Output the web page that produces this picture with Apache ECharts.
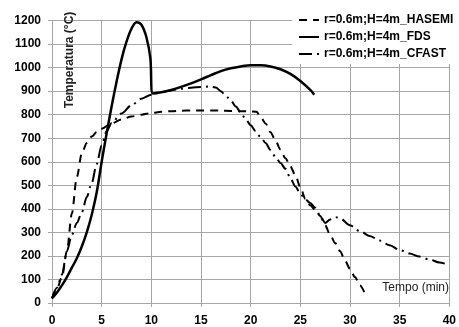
<!DOCTYPE html>
<html>
<head>
<meta charset="utf-8">
<script src="https://cdn.jsdelivr.net/npm/echarts@6/dist/echarts.min.js"></script>
<style>html,body{margin:0;padding:0;background:#fff}#c{width:459px;height:327px}</style>
</head>
<body>
<div id="c"></div>
<script>
const xTicks = [0,5,10,15,20,25,30,35,40];
const yTicks = [0,100,200,300,400,500,600,700,800,900,1000,1100,1200];

const hasemiTime = [0,0.5,1,1.5,2,2.5,3,3.5,4,4.5,5,6,7,8,9,10,11,12,13,14,15,16,17,18,19,20,20.6,21,21.5,22,22.5,23,23.5,24,24.5,25,25.5,26,26.5,27,27.5,28,28.5,29,29.5,30,30.5,31,31.5];
const hasemiTemp = [20,60,110,220,380,535,635,680,707,726,740,763,780,792,800,807,812,815,817,818,818,818,817,816,815,814,812,790,763,725,690,652,615,580,543,492,442,415,395,370,330,290,255,220,180,145,110,75,40];

const fdsTime = [0,0.5,1,1.5,2,2.5,3,3.5,4,4.5,5,5.5,6,6.5,7,7.5,8,8.5,9,9.5,9.9,10.15,11,12,13,14,15,16,17,18,19,20,21,22,23,24,25,26,26.4];
const fdsTemp = [20,45,75,110,150,190,240,300,375,470,600,720,835,940,1035,1110,1165,1193,1182,1130,1040,890,895,905,918,933,950,968,985,997,1005,1010,1010,1005,993,973,943,905,885];

const cfastTime = [0,0.5,1,1.5,2,2.5,3,3.5,4,4.5,5,5.5,6,7,8,9,10,11,12,13,14,15,16,16.5,17,17.5,18,18.5,19,19.5,20,20.5,21,21.5,22,22.5,23,23.5,24,24.5,25,25.5,26,26.5,27,27.5,28,28.5,29,30,31,32,33,34,35,36,37,38,39,40];
const cfastTemp = [20,65,120,220,290,340,385,450,510,590,670,730,765,805,840,868,885,895,903,910,914,918,920,915,900,880,860,835,810,780,755,730,705,680,650,620,595,570,530,495,465,440,425,405,370,340,355,365,360,330,305,285,265,245,225,210,197,185,172,160];

const seriesNames = ['r=0.6m;H=4m_HASEMI','r=0.6m;H=4m_FDS','r=0.6m;H=4m_CFAST'];

function zip(a,b){return a.map((v,i)=>[v,b[i]]);}

const chart = echarts.init(document.getElementById('c'));
const gray = '#a6a6a6';
const font = 'Liberation Sans, Arial, sans-serif';
chart.setOption({
  animation:false,
  backgroundColor:'#fff',
  color:['#000','#000','#000'],
  grid:{left:52,right:7,top:20.5,bottom:24,containLabel:false},
  xAxis:{type:'value',min:0,max:40,interval:5,
    axisLine:{lineStyle:{color:gray,width:1}},
    axisTick:{show:true,length:4,lineStyle:{color:gray}},
    splitLine:{lineStyle:{color:gray,width:1}},
    axisLabel:{margin:12,color:'#000',fontWeight:'bold',fontSize:12,fontFamily:font,
      formatter:v=>String(v)}},
  yAxis:{type:'value',min:0,max:1200,interval:100,
    axisLine:{show:true,lineStyle:{color:gray,width:1}},
    axisTick:{show:true,length:4,lineStyle:{color:gray}},
    splitLine:{lineStyle:{color:gray,width:1}},
    axisLabel:{margin:11,color:'#000',fontWeight:'bold',fontSize:12,fontFamily:font,
      formatter:v=>String(v)}},
  legend:{orient:'vertical',left:292,top:9,itemWidth:20,itemHeight:12,itemGap:5,
    backgroundColor:'#fff',padding:[5,2,4,6],
    itemStyle:{opacity:0},
    lineStyle:{color:'#000'},
    textStyle:{color:'#000',fontWeight:'bold',fontSize:12,fontFamily:font},
    data:seriesNames},
  graphic:[
    {type:'rect',left:292,top:0,z:90,shape:{width:167,height:10},style:{fill:'#fff'}},
    {type:'text',x:70,y:60,rotation:Math.PI/2,z:100,
      style:{text:'Temperatura (°C)',textAlign:'center',textVerticalAlign:'middle',fill:'#222',font:'bold 12px '+font}},
    {type:'text',x:449,y:288,z:100,
      style:{text:'Tempo (min)',textAlign:'right',textVerticalAlign:'middle',fill:'#222',font:'12px '+font}}
  ],
  series:[
    {name:seriesNames[0],type:'line',data:zip(hasemiTime,hasemiTemp),symbol:'none',smooth:0.3,smoothMonotone:'x',
      itemStyle:{color:'#000'},lineStyle:{color:'#000',width:2,type:[8,6]}},
    {name:seriesNames[1],type:'line',data:zip(fdsTime,fdsTemp),symbol:'none',smooth:0.35,
      itemStyle:{color:'#000'},lineStyle:{color:'#000',width:2.5,type:'solid'}},
    {name:seriesNames[2],type:'line',data:zip(cfastTime,cfastTemp),symbol:'none',smooth:0.3,smoothMonotone:'x',
      itemStyle:{color:'#000'},lineStyle:{color:'#000',width:2,type:[13,5,2,5]}}
  ]
});
</script>
</body>
</html>
